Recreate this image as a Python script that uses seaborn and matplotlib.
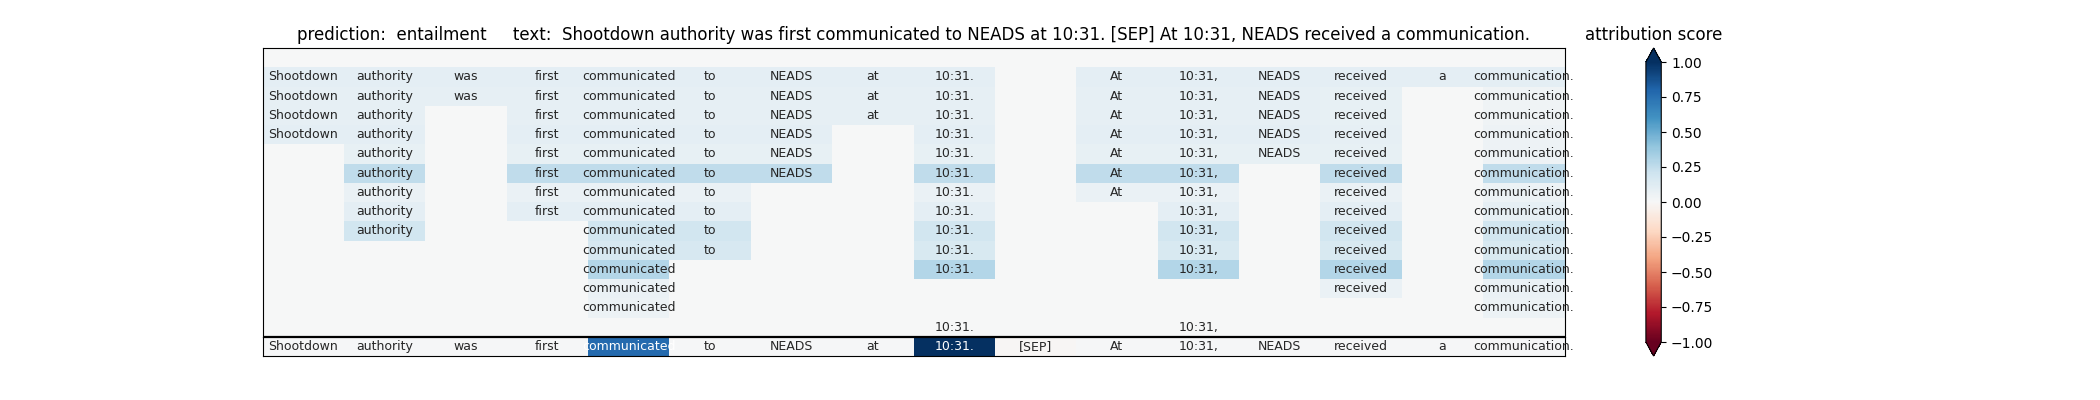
import numpy as np
import matplotlib
matplotlib.use("Agg")
import matplotlib.pyplot as plt
import seaborn as sns

# ── Data ──────────────────────────────────────────────────────────────────
tokens = ["Shootdown", "authority", "was", "first", "communicated", "to",
          "NEADS", "at", "10:31.", "[SEP]", "At", "10:31,", "NEADS",
          "received", "a", "communication."]

prediction = "entailment"

# attribution of each token at every reduction step (None = token removed)
N = None
step_scores = [
    [N,    N,    N,    N,    N,    N,    N,    N,    N,    N, N,    N,    N,    N,    N,    N],
    [0.10, 0.10, 0.10, 0.10, 0.10, 0.10, 0.10, 0.10, 0.10, N, 0.10, 0.10, 0.10, 0.10, 0.10, 0.10],
    [0.09, 0.09, 0.09, 0.09, 0.09, 0.09, 0.09, 0.09, 0.09, N, 0.09, 0.09, 0.09, 0.08, N,    0.04],
    [0.09, 0.09, N,    0.09, 0.09, 0.09, 0.09, 0.09, 0.09, N, 0.09, 0.09, 0.09, 0.08, N,    0.04],
    [0.10, 0.10, N,    0.10, 0.10, 0.10, 0.10, N,    0.10, N, 0.10, 0.10, 0.10, 0.09, N,    0.05],
    [N,    0.08, N,    0.08, 0.08, 0.08, 0.08, N,    0.08, N, 0.08, 0.08, 0.08, 0.08, N,    0.05],
    [N,    0.25, N,    0.25, 0.25, 0.25, 0.25, N,    0.25, N, 0.25, 0.25, N,    0.25, N,    0.25],
    [N,    0.07, N,    0.07, 0.07, 0.07, N,    N,    0.07, N, 0.07, 0.07, N,    0.07, N,    0.06],
    [N,    0.10, N,    0.10, 0.10, 0.10, N,    N,    0.10, N, N,    0.10, N,    0.10, N,    0.09],
    [N,    0.19, N,    N,    0.19, 0.19, N,    N,    0.19, N, N,    0.19, N,    0.19, N,    0.19],
    [N,    N,    N,    N,    0.17, 0.17, N,    N,    0.16, N, N,    0.16, N,    0.16, N,    0.16],
    [N,    N,    N,    N,    0.29, N,    N,    N,    0.29, N, N,    0.29, N,    0.29, N,    0.29],
    [N,    N,    N,    N,    0.07, N,    N,    N,    N,    N, N,    N,    N,    0.07, N,    0.07],
    [N,    N,    N,    N,    0.06, N,    N,    N,    N,    N, N,    N,    N,    N,    N,    0.06],
    [N,    N,    N,    N,    N,    N,    N,    N,    0.0,  N, N,    0.0,  N,    N,    N,    N],
]

# attribution on the full input
full_scores = [0.01, 0.01, 0.01, 0.01, 0.78, 0.01, 0.01, 0.01, 1.0, -0.01,
               0.01, 0.01, 0.01, 0.01, 0.01, 0.01]

# ── Build value / label grids ─────────────────────────────────────────────
top_vals = np.array([[0.0 if v is None else v for v in row] for row in step_scores])
top_labels = np.array([["" if v is None else tok for v, tok in zip(row, tokens)]
                       for row in step_scores])
bot_vals = np.array([full_scores])
bot_labels = np.array([tokens])

title = ("prediction:  " + prediction + "     text:  "
         + " ".join(tokens[:9]) + " " + " ".join(tokens[9:]))

# ── Plot ──────────────────────────────────────────────────────────────────
fig = plt.figure(figsize=(21, 4), dpi=100)
gs = fig.add_gridspec(2, 1, height_ratios=[len(step_scores), 1], hspace=0)
ax_top = fig.add_subplot(gs[0])
ax_bot = fig.add_subplot(gs[1])

common = dict(cmap="RdBu", vmin=-1, vmax=1, cbar=False, fmt="",
              xticklabels=False, yticklabels=False,
              annot_kws={"fontsize": 9})
sns.heatmap(top_vals, annot=top_labels, ax=ax_top, **common)
sns.heatmap(bot_vals, annot=bot_labels, ax=ax_bot, **common)

for ax in (ax_top, ax_bot):
    for sp in ax.spines.values():
        sp.set_visible(True)
        sp.set_color("black")
# heavier rule between the reduction steps and the full input
ax_bot.spines["top"].set_linewidth(1.6)
ax_bot.spines["top"].set_capstyle("butt")

ax_top.set_title(title)

cbar = fig.colorbar(ax_top.collections[0], ax=[ax_top, ax_bot], extend="both")
cbar.ax.set_title("attribution score")

fig.savefig("out.png", dpi=100)
